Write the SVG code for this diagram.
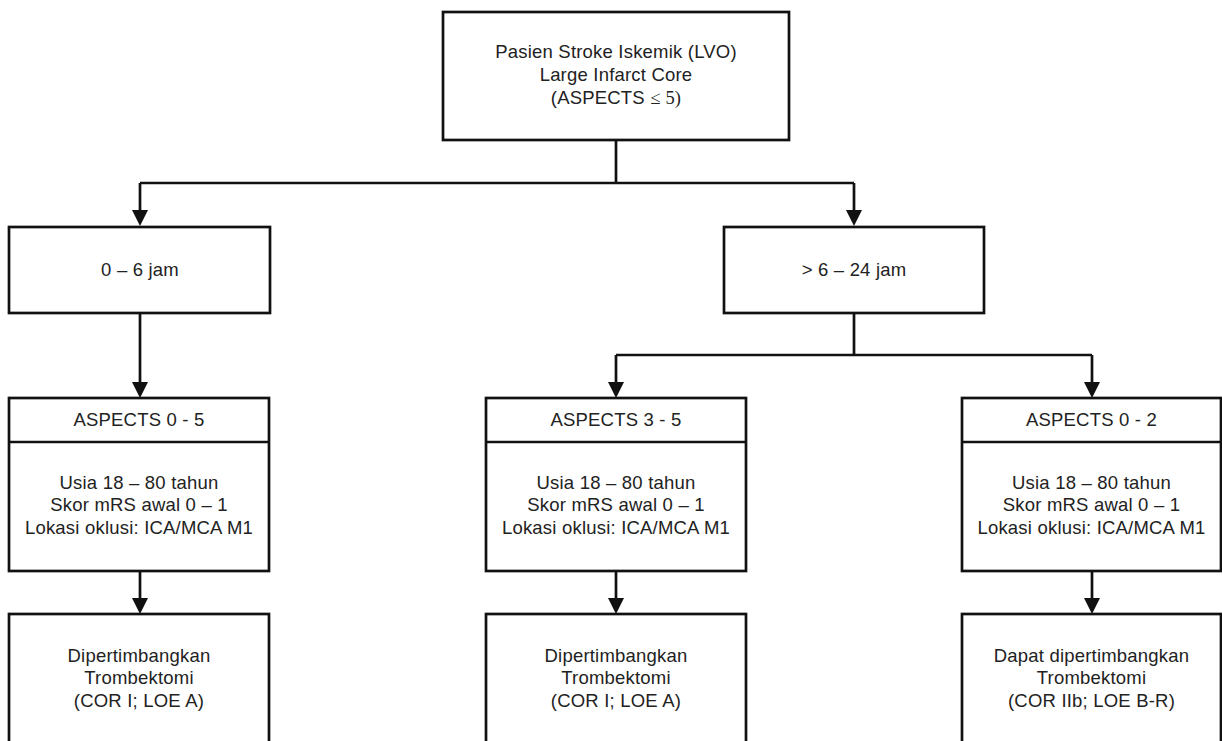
<svg xmlns="http://www.w3.org/2000/svg" width="1222" height="741" viewBox="0 0 1222 741">
<style>
.box{fill:#fff;stroke:#111;stroke-width:2.7}
.ln{fill:none;stroke:#111;stroke-width:2.7}
.ar{marker-end:url(#arr)}
.t{font-family:"Liberation Sans",Arial,sans-serif;font-size:18.5px;fill:#222;text-anchor:middle;letter-spacing:0.2px}
.s{font-family:"Liberation Serif","Times New Roman",serif}
</style>
<defs>
<marker id="arr" markerUnits="userSpaceOnUse" markerWidth="16" markerHeight="16" viewBox="0 0 16 16" refX="2" refY="8" orient="auto">
<path d="M0,0 L16,8 L0,16 Z" fill="#111"/>
</marker>
</defs>
<rect width="1222" height="741" fill="#fff"/>
<g id="connectors">
<path class="ln" d="M616,140 V183"/>
<path class="ln" d="M140,183 H854"/>
<path class="ln ar" d="M140,183 V212"/>
<path class="ln ar" d="M854,183 V212"/>
<path class="ln ar" d="M140,313 V384"/>
<path class="ln" d="M854,313 V355"/>
<path class="ln" d="M616,355 H1092"/>
<path class="ln ar" d="M616,355 V384"/>
<path class="ln ar" d="M1092,355 V384"/>
<path class="ln ar" d="M140,571 V600"/>
<path class="ln ar" d="M616,571 V600"/>
<path class="ln ar" d="M1092,571 V600"/>
</g>
<g id="n_root">
<rect class="box" x="443" y="12" width="346" height="128"/>
<text class="t" x="616" y="58">Pasien Stroke Iskemik (LVO)</text>
<text class="t" x="616" y="81">Large Infarct Core</text>
<text class="t" x="616" y="104">(ASPECTS <tspan class="s">≤ 5)</tspan></text>
</g>
<g id="n_06">
<rect class="box" x="9" y="227" width="261" height="86"/>
<text class="t" x="140" y="276">0 – 6 jam</text>
</g>
<g id="n_624">
<rect class="box" x="724" y="227" width="260" height="86"/>
<text class="t" x="854" y="276">&gt; 6 – 24 jam</text>
</g>
<g id="n_a05">
<rect class="box" x="9" y="398" width="260" height="173"/>
<line class="ln" x1="9" y1="442" x2="269" y2="442"/>
<text class="t" x="139" y="426">ASPECTS 0 - 5</text>
<text class="t" x="139" y="489">Usia 18 – 80 tahun</text>
<text class="t" x="139" y="511">Skor mRS awal 0 – 1</text>
<text class="t" x="139" y="534">Lokasi oklusi: ICA/MCA M1</text>
</g>
<g id="n_a35">
<rect class="box" x="486" y="398" width="260" height="173"/>
<line class="ln" x1="486" y1="442" x2="746" y2="442"/>
<text class="t" x="616" y="426">ASPECTS 3 - 5</text>
<text class="t" x="616" y="489">Usia 18 – 80 tahun</text>
<text class="t" x="616" y="511">Skor mRS awal 0 – 1</text>
<text class="t" x="616" y="534">Lokasi oklusi: ICA/MCA M1</text>
</g>
<g id="n_a02">
<rect class="box" x="962" y="398" width="259" height="173"/>
<line class="ln" x1="962" y1="442" x2="1221" y2="442"/>
<text class="t" x="1091.5" y="426">ASPECTS 0 - 2</text>
<text class="t" x="1091.5" y="489">Usia 18 – 80 tahun</text>
<text class="t" x="1091.5" y="511">Skor mRS awal 0 – 1</text>
<text class="t" x="1091.5" y="534">Lokasi oklusi: ICA/MCA M1</text>
</g>
<g id="n_r1">
<rect class="box" x="9" y="614" width="260" height="140"/>
<text class="t" x="139" y="662">Dipertimbangkan</text>
<text class="t" x="139" y="684">Trombektomi</text>
<text class="t" x="139" y="707">(COR I; LOE A)</text>
</g>
<g id="n_r2">
<rect class="box" x="486" y="614" width="260" height="140"/>
<text class="t" x="616" y="662">Dipertimbangkan</text>
<text class="t" x="616" y="684">Trombektomi</text>
<text class="t" x="616" y="707">(COR I; LOE A)</text>
</g>
<g id="n_r3">
<rect class="box" x="962" y="614" width="259" height="140"/>
<text class="t" x="1091.5" y="662">Dapat dipertimbangkan</text>
<text class="t" x="1091.5" y="684">Trombektomi</text>
<text class="t" x="1091.5" y="707">(COR IIb; LOE B-R)</text>
</g>
</svg>
